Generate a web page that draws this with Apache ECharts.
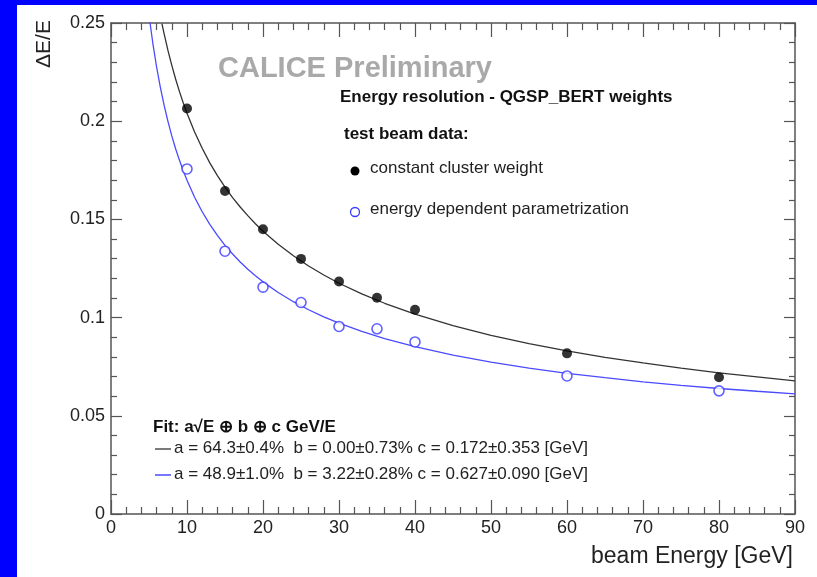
<!DOCTYPE html>
<html>
<head>
<meta charset="utf-8">
<script src="https://cdn.jsdelivr.net/npm/echarts@6/dist/echarts.min.js"></script>
<style>
html,body{margin:0;padding:0;background:#fff;}
#chart{width:817px;height:577px;}
</style>
</head>
<body>
<div id="chart"></div>
<script>
// ---- data ----
const beamEnergy = [10, 15, 20, 25, 30, 35, 40, 60, 80];
const constantClusterWeight = [0.2065, 0.1645, 0.1450, 0.1299, 0.1184, 0.1101, 0.1040, 0.0818, 0.0696];
const energyDependentParam = [0.1757, 0.1338, 0.1155, 0.1077, 0.0955, 0.0943, 0.0876, 0.0703, 0.0627];

// fit curves
const fitBlackE = [6.7, 7, 7.5, 8, 8.5, 9, 9.5, 10, 11, 12, 13, 14, 15, 16, 17, 18, 19, 20, 22, 24, 26, 28, 30, 33, 36, 40, 45, 50, 55, 60, 65, 70, 75, 80, 85, 90];
const fitBlackV = [0.2497, 0.2443, 0.2359, 0.2284, 0.2215, 0.2152, 0.2094, 0.2041, 0.1945, 0.1862, 0.1788, 0.1723, 0.1664, 0.1611, 0.1563, 0.1519, 0.1478, 0.1440, 0.1373, 0.1315, 0.1263, 0.1217, 0.1175, 0.1121, 0.1073, 0.1018, 0.0959, 0.0910, 0.0868, 0.0831, 0.0798, 0.0769, 0.0743, 0.0719, 0.0698, 0.0678];
const fitBlueE = [5.1, 5.5, 6, 6.5, 7, 7.5, 8, 8.5, 9, 9.5, 10, 11, 12, 13, 14, 15, 16, 17, 18, 19, 20, 22, 24, 26, 28, 30, 33, 36, 40, 45, 50, 55, 60, 65, 70, 75, 80, 85, 90];
const fitBlueV = [0.2511, 0.2398, 0.2276, 0.2171, 0.2079, 0.1998, 0.1925, 0.1860, 0.1802, 0.1748, 0.1699, 0.1613, 0.1539, 0.1475, 0.1419, 0.1368, 0.1324, 0.1283, 0.1246, 0.1213, 0.1182, 0.1128, 0.1081, 0.1040, 0.1004, 0.0972, 0.0930, 0.0893, 0.0852, 0.0809, 0.0773, 0.0743, 0.0716, 0.0694, 0.0673, 0.0655, 0.0639, 0.0625, 0.0612];

const xTicks = {min: 0, max: 90, interval: 10};
const yTicks = {min: 0, max: 0.25, interval: 0.05};

const yTitle = 'ΔE/E';
const xTitle = 'beam Energy [GeV]';
const watermark = 'CALICE Preliminary';
const headline = 'Energy resolution - QGSP_BERT weights';
const subHeadline = 'test beam data:';
const legendNames = ['constant cluster weight', 'energy dependent parametrization'];
const fitTitle = 'Fit: a√E ⊕ b ⊕ c GeV/E';
const fitLines = [
  'a = 64.3±0.4%  b = 0.00±0.73% c = 0.172±0.353 [GeV]',
  'a = 48.9±1.0%  b = 3.22±0.28% c = 0.627±0.090 [GeV]'
];

const zip = (a, b) => a.map((v, i) => [v, b[i]]);

const FONT = '"Liberation Sans", Arial, Helvetica, sans-serif';
const frameColor = '#555';
const labelColor = '#222';
const blue = '#4a4aff';

function axisBase(extra) {
  return Object.assign({
    type: 'value',
    axisLine: {show: true, onZero: false, lineStyle: {color: frameColor, width: 1.5}},
    splitLine: {show: false},
    minorSplitLine: {show: false}
  }, extra);
}

const chart = echarts.init(document.getElementById('chart'), null, {renderer: 'canvas'});
const gridRect = {left: 111, top: 23, width: 684, height: 491};

chart.setOption({
  backgroundColor: '#ffffff',
  animation: false,
  textStyle: {fontFamily: FONT},
  grid: Object.assign({containLabel: false}, gridRect),
  xAxis: [
    axisBase(Object.assign({}, xTicks, {
      position: 'bottom',
      axisTick: {show: true, inside: true, length: 14, lineStyle: {color: frameColor, width: 1.2}},
      minorTick: {show: true, splitNumber: 5, length: 7, lineStyle: {color: frameColor, width: 1.2}},
      axisLabel: {fontSize: 18, color: labelColor, margin: 5, fontFamily: FONT}
    })),
    axisBase(Object.assign({}, xTicks, {
      position: 'top',
      axisTick: {show: true, inside: true, length: 14, lineStyle: {color: frameColor, width: 1.2}},
      minorTick: {show: true, splitNumber: 5, length: 7, lineStyle: {color: frameColor, width: 1.2}},
      axisLabel: {show: false}
    }))
  ],
  yAxis: [
    axisBase(Object.assign({}, yTicks, {
      position: 'left',
      axisTick: {show: true, inside: true, length: 11, lineStyle: {color: frameColor, width: 1.2}},
      minorTick: {show: true, splitNumber: 5, length: 6, lineStyle: {color: frameColor, width: 1.2}},
      axisLabel: {fontSize: 18, color: labelColor, margin: 6, fontFamily: FONT}
    })),
    axisBase(Object.assign({}, yTicks, {
      position: 'right',
      axisTick: {show: true, inside: true, length: 11, lineStyle: {color: frameColor, width: 1.2}},
      minorTick: {show: true, splitNumber: 5, length: 6, lineStyle: {color: frameColor, width: 1.2}},
      axisLabel: {show: false}
    }))
  ],
  series: [
    {
      name: 'fit constant', type: 'line', xAxisIndex: 0, yAxisIndex: 0,
      data: zip(fitBlackE, fitBlackV), smooth: false,
      showSymbol: false, clip: true, z: 2,
      lineStyle: {color: '#333', width: 1.3}
    },
    {
      name: 'fit param', type: 'line', xAxisIndex: 0, yAxisIndex: 0,
      data: zip(fitBlueE, fitBlueV), smooth: false,
      showSymbol: false, clip: true, z: 2,
      lineStyle: {color: blue, width: 1.3}
    },
    {
      name: legendNames[0], type: 'scatter', xAxisIndex: 0, yAxisIndex: 0,
      data: zip(beamEnergy, constantClusterWeight), symbol: 'circle', symbolSize: 10, z: 3,
      itemStyle: {color: '#000'}
    },
    {
      name: legendNames[1], type: 'scatter', xAxisIndex: 0, yAxisIndex: 0,
      data: zip(beamEnergy, energyDependentParam), symbol: 'circle', symbolSize: 10, z: 3,
      itemStyle: {color: '#fff', borderColor: '#3a3aff', borderWidth: 1.6}
    }
  ],
  graphic: [
    {type: 'rect', left: 0, top: 0, shape: {width: 817, height: 5}, style: {fill: '#0000ff'}, z: 10},
    {type: 'rect', left: 0, top: 0, shape: {width: 17, height: 577}, style: {fill: '#0000ff'}, z: 10},
    {type: 'text', x: 44, y: 44, rotation: Math.PI / 2,
      style: {text: yTitle, font: '21px ' + FONT, fill: labelColor, align: 'center', verticalAlign: 'middle'}},
    {type: 'text', x: 793, y: 557,
      style: {text: xTitle, font: '23px ' + FONT, fill: labelColor, align: 'right', verticalAlign: 'middle'}},
    {type: 'text', x: 218, y: 69,
      style: {text: watermark, font: 'bold 29px ' + FONT, fill: '#a9a9a9', align: 'left', verticalAlign: 'middle'}},
    {type: 'text', x: 340, y: 97,
      style: {text: headline, font: 'bold 17px ' + FONT, fill: '#111', align: 'left', verticalAlign: 'middle'}},
    {type: 'text', x: 344, y: 134,
      style: {text: subHeadline, font: 'bold 17px ' + FONT, fill: '#111', align: 'left', verticalAlign: 'middle'}},
    {type: 'circle', shape: {cx: 355, cy: 171, r: 4.5}, style: {fill: '#000'}},
    {type: 'text', x: 370, y: 168,
      style: {text: legendNames[0], font: '17px ' + FONT, fill: '#222', align: 'left', verticalAlign: 'middle'}},
    {type: 'circle', shape: {cx: 355, cy: 212, r: 4.5}, style: {fill: '#fff', stroke: '#3a3aff', lineWidth: 1.3}},
    {type: 'text', x: 370, y: 209,
      style: {text: legendNames[1], font: '17px ' + FONT, fill: '#222', align: 'left', verticalAlign: 'middle'}},
    {type: 'text', x: 153, y: 427,
      style: {text: fitTitle, font: 'bold 17px ' + FONT, fill: '#111', align: 'left', verticalAlign: 'middle'}},
    {type: 'line', shape: {x1: 155, y1: 449, x2: 171, y2: 449}, style: {stroke: '#333', lineWidth: 1.3}},
    {type: 'text', x: 174, y: 448,
      style: {text: fitLines[0], font: '17px ' + FONT, fill: '#222', align: 'left', verticalAlign: 'middle'}},
    {type: 'line', shape: {x1: 155, y1: 475, x2: 171, y2: 475}, style: {stroke: blue, lineWidth: 1.5}},
    {type: 'text', x: 174, y: 474,
      style: {text: fitLines[1], font: '17px ' + FONT, fill: '#222', align: 'left', verticalAlign: 'middle'}}
  ]
});
</script>
</body>
</html>
